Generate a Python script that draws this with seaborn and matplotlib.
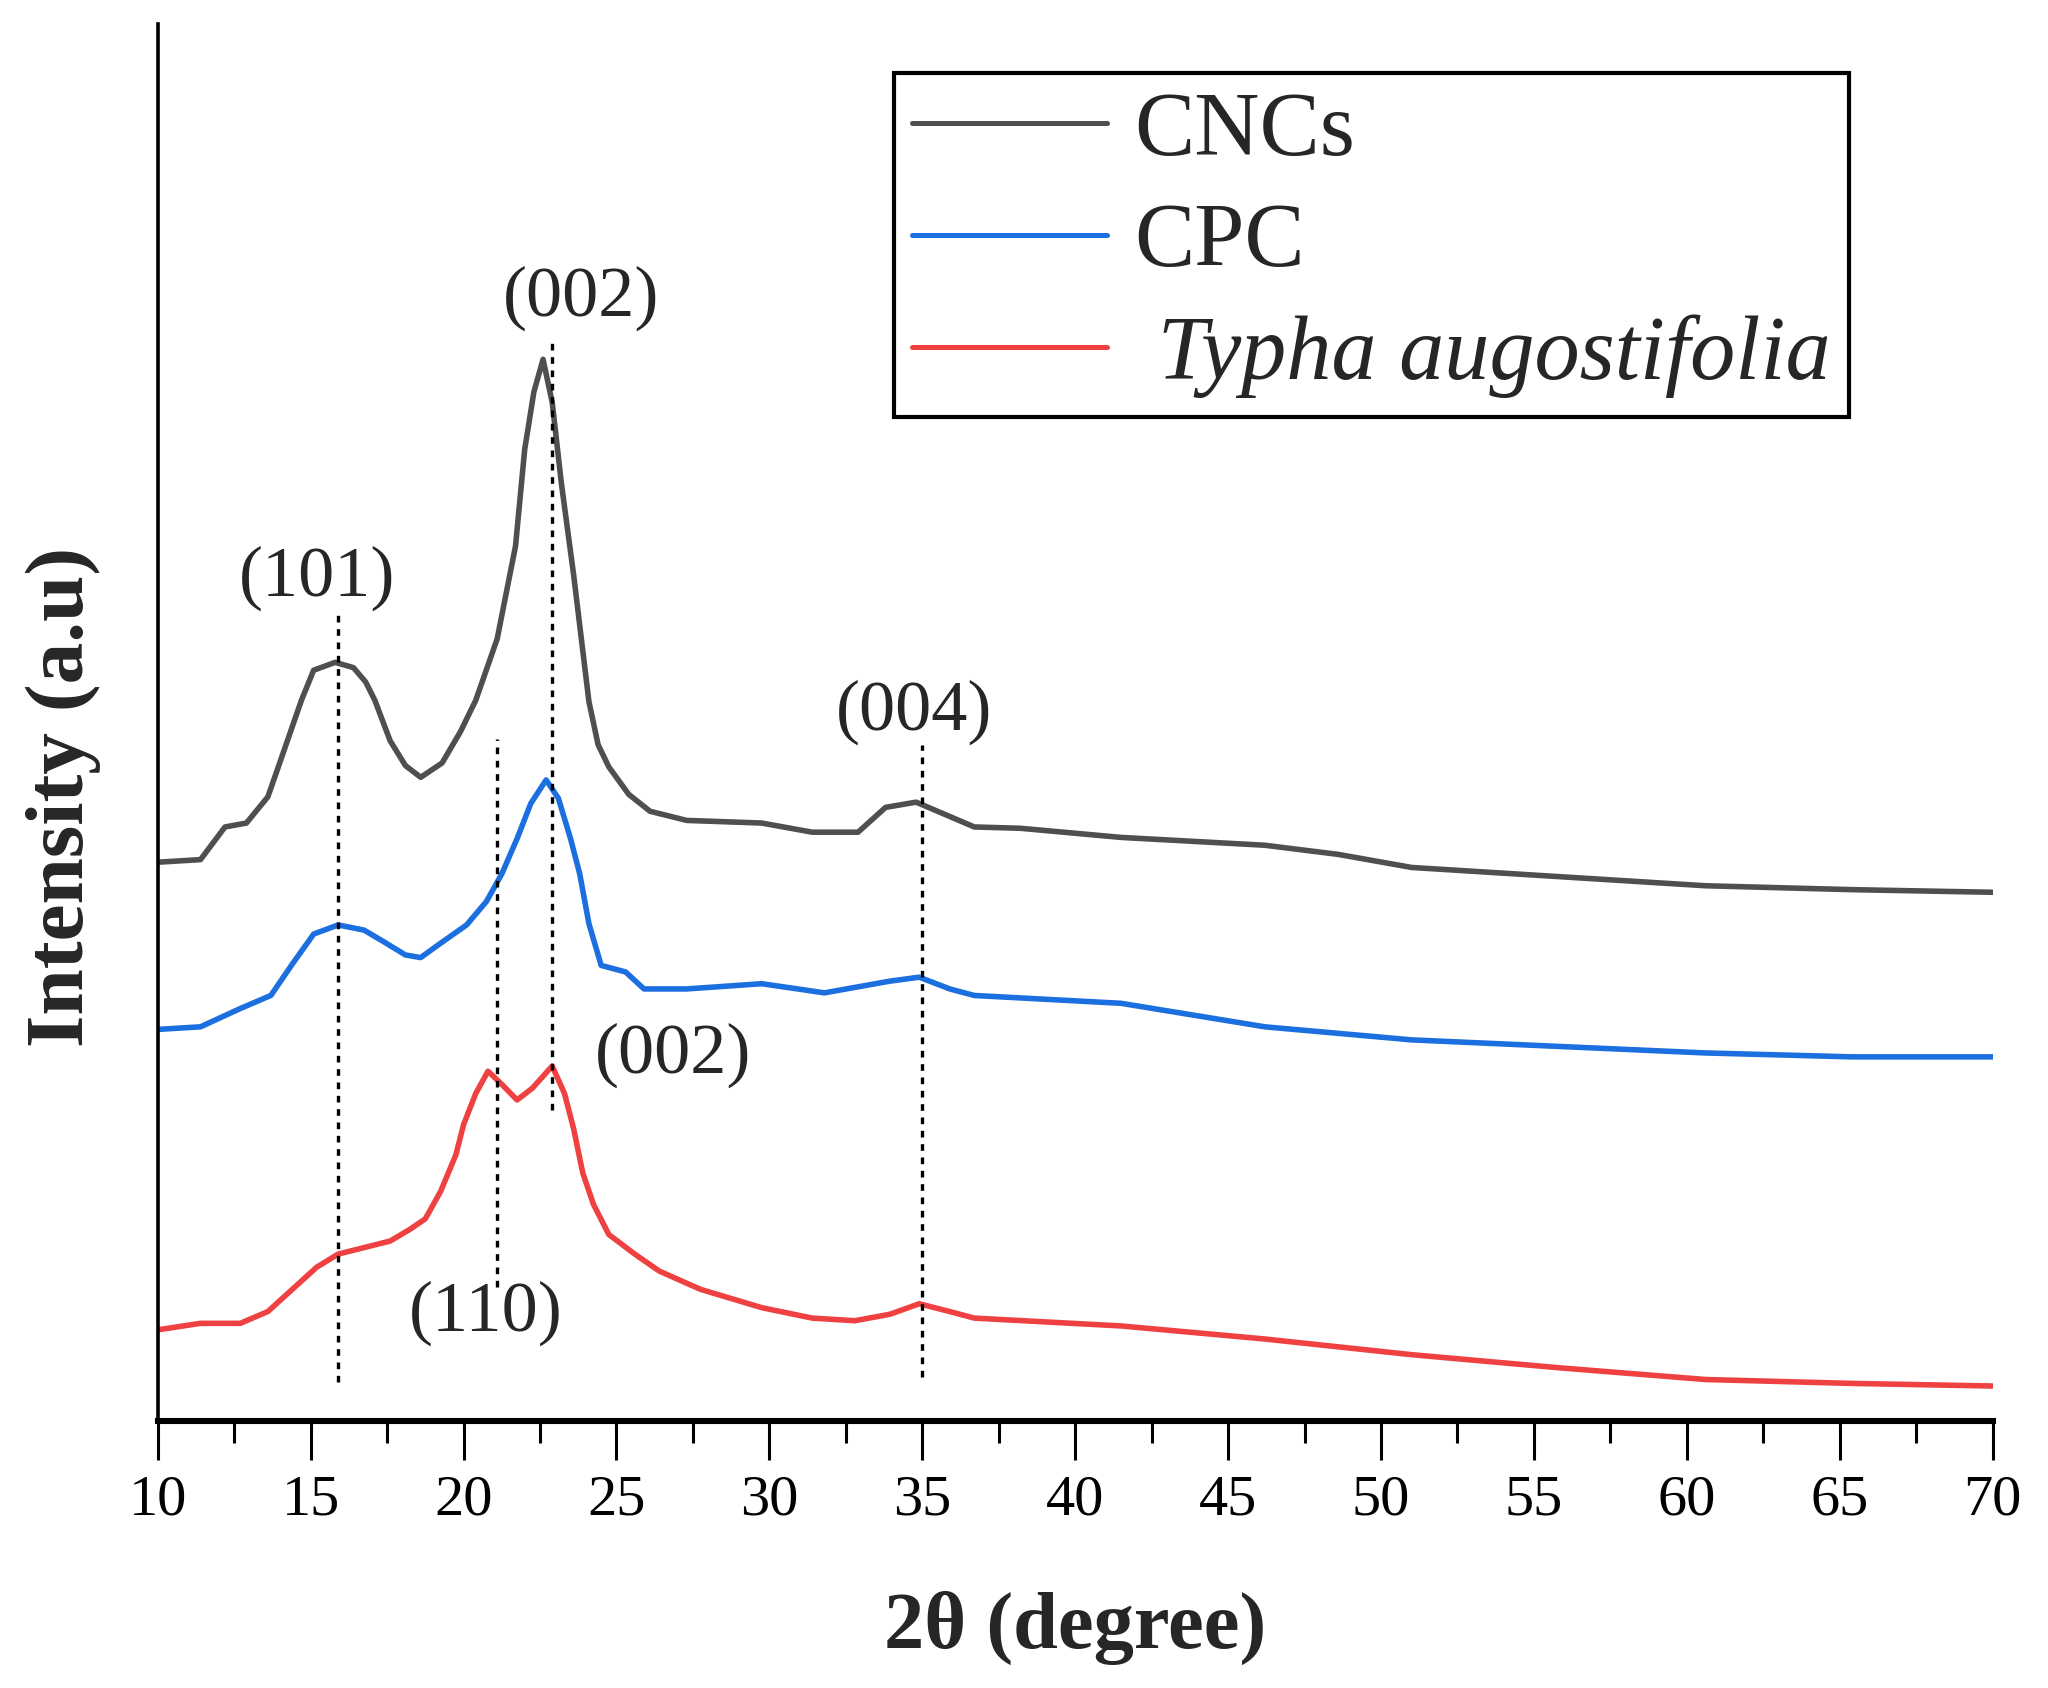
import pandas as pd
import seaborn as sns
import matplotlib
matplotlib.use('Agg')
import matplotlib.pyplot as plt
from matplotlib.ticker import MultipleLocator

# XRD patterns (arbitrary intensity units, already offset)
cnc_2theta = [10.0, 11.4, 12.2, 12.9, 13.6, 13.9, 14.3, 14.7, 15.1, 15.8, 16.4, 16.8, 17.1,
              17.6, 18.1, 18.6, 19.3, 19.9, 20.4, 21.1, 21.7, 22.0, 22.3, 22.6, 22.9, 23.2,
              23.6, 24.1, 24.4, 24.75, 25.4, 26.1, 27.3, 29.75, 31.4, 32.9, 33.8, 34.8, 35.9,
              36.7, 38.2, 41.5, 46.2, 48.6, 51.0, 55.8, 60.6, 65.4, 70.0]
cnc_int = [428, 430, 455, 458, 478, 498, 525, 552, 575, 581, 577, 566, 552,
           521, 502, 493, 504, 528, 552, 599, 670, 744, 788, 813, 780, 718,
           648, 551, 518, 501, 480, 467, 460, 458, 451, 451, 470, 474, 463,
           455, 454, 447, 441, 434, 424, 417, 410, 407, 405]

cpc_2theta = [10.0, 11.4, 12.7, 13.7, 14.4, 15.1, 15.9, 16.75, 17.4, 18.1, 18.6, 19.25, 20.1,
              20.75, 21.25, 21.75, 22.2, 22.7, 23.1, 23.5, 23.8, 24.1, 24.5, 25.3, 25.9, 27.3,
              29.75, 31.8, 33.95, 34.9, 35.9, 36.7, 41.5, 46.2, 51.0, 55.8, 60.6, 65.4, 70.0]
cpc_int = [300, 302, 316, 326, 350, 373, 380, 376, 367, 357, 355, 366, 380,
           398, 419, 446, 473, 491, 477, 446, 419, 381, 349, 344, 331, 331,
           335, 328, 337, 340, 331, 326, 320, 302, 292, 287, 282, 279, 279]

typha_2theta = [10.0, 11.4, 12.7, 13.6, 14.4, 15.2, 15.9, 16.75, 17.6, 18.25, 18.75, 19.25,
                19.75, 20.0, 20.4, 20.8, 21.25, 21.75, 22.25, 22.9, 23.3, 23.6, 23.9, 24.25,
                24.75, 25.6, 26.4, 27.75, 29.75, 31.4, 32.8, 33.95, 34.9, 35.9, 36.7, 41.5,
                46.2, 51.0, 55.8, 60.6, 65.4, 70.0]
typha_int = [70, 75, 75, 84, 101, 118, 128, 133, 138, 147, 155, 176,
             204, 227, 251, 268, 258, 246, 255, 272, 251, 224, 190, 166,
             143, 128, 115, 101, 87, 79, 77, 82, 90, 84, 79, 73,
             63, 51, 41, 32, 29, 27]

labels = ['CNCs', 'CPC', ' Typha augostifolia']
colors = ['#4f4f4f', '#1c6fdf', '#ef4141']

# reflection markers: position, line bottom, line top
peak_pos = [15.9, 21.1, 22.9, 35.0]
peak_lo = [30, 103, 238, 34]
peak_hi = [620, 522, 828, 518]

# annotations: text, x, y
ann_text = ['(101)', '(002)', '(004)', '(002)', '(110)']
ann_x = [15.2, 23.85, 34.74, 26.84, 20.73]
ann_y = [645, 860, 543, 280, 83]

frames = []
for lab, xs, ys in zip(labels, [cnc_2theta, cpc_2theta, typha_2theta],
                       [cnc_int, cpc_int, typha_int]):
    frames.append(pd.DataFrame({'2theta': xs, 'intensity': ys, 'sample': lab}))
df = pd.concat(frames, ignore_index=True)

sns.set_style('ticks')
plt.rcParams['font.family'] = ['Liberation Serif', 'DejaVu Serif']

fig, ax = plt.subplots(figsize=(10.24, 8.44), dpi=200)
fig.subplots_adjust(left=0.077, right=0.973, top=0.986, bottom=0.158)

sns.lineplot(data=df, x='2theta', y='intensity', hue='sample', hue_order=labels,
             palette=dict(zip(labels, colors)), sort=False, estimator=None,
             linewidth=2.0, ax=ax)

for p, lo, hi in zip(peak_pos, peak_lo, peak_hi):
    ax.vlines(p, lo, hi, colors='black', linewidth=1.2, linestyles=(0, (2, 2)))

for t, x, y in zip(ann_text, ann_x, ann_y):
    ax.text(x, y, t, fontsize=26, ha='center', va='center')

ax.set_xlim(10, 70)
ax.set_ylim(0, 1070)
ax.set_yticks([])
ax.set_xticks(range(10, 71, 5))
ax.xaxis.set_minor_locator(MultipleLocator(2.5))
ax.tick_params(axis='x', which='major', direction='out', length=14, width=1.1,
               labelsize=21, pad=5, colors='black')
ax.tick_params(axis='x', which='minor', direction='out', length=8, width=1.1, colors='black')

sns.despine(ax=ax)
ax.spines['left'].set_linewidth(1.3)
ax.spines['bottom'].set_linewidth(2.2)
ax.spines['left'].set_color('black')
ax.spines['bottom'].set_color('black')

ax.set_xlabel('2θ (degree)', fontsize=29, fontweight='bold', va='top')
ax.xaxis.set_label_coords(0.5, -0.121)
ax.set_ylabel('Intensity (a.u)', fontsize=30, fontweight='bold')
ax.yaxis.set_label_coords(-0.031, 0.447)

leg = ax.legend(loc='upper left', bbox_to_anchor=(0.401, 0.965), fontsize=32.5,
                frameon=True, fancybox=False, edgecolor='black', framealpha=1,
                handlelength=2.15, handletextpad=0.31, labelspacing=0.32,
                borderpad=0.21, borderaxespad=0)
leg.get_frame().set_linewidth(1.5)
leg.get_texts()[2].set_fontstyle('italic')
for line in leg.get_lines():
    line.set_linewidth(1.8)

fig.savefig('out.png', dpi=200, facecolor='white')
